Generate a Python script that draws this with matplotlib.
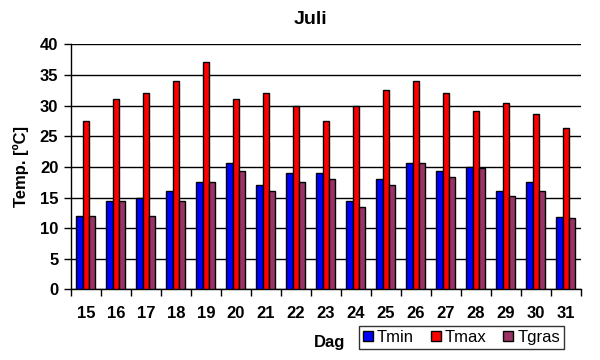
import numpy as np
import matplotlib
matplotlib.use('Agg')
import matplotlib.pyplot as plt

plt.rcParams['font.family'] = ['Liberation Sans', 'DejaVu Sans']

# data
dagen = ['15', '16', '17', '18', '19', '20', '21', '22', '23',
         '24', '25', '26', '27', '28', '29', '30', '31']
tmin = [12, 14.5, 15, 16, 17.5, 20.6, 17, 19, 19,
        14.5, 18, 20.6, 19.4, 19.9, 16, 17.5, 11.9]
tmax = [27.5, 31, 32, 34, 37.1, 31, 32, 30, 27.5,
        30, 32.5, 34, 32, 29.1, 30.5, 28.6, 26.4]
tgras = [12, 14.5, 12, 14.4, 17.6, 19.3, 16, 17.5, 18,
         13.4, 17, 20.6, 18.4, 19.75, 15.3, 16, 11.6]

fig = plt.figure(figsize=(6, 3.6), dpi=100)
ax = fig.add_axes([0.118, 0.196, 0.850, 0.681])

x = np.arange(len(dagen))
w = 0.21
ax.bar(x - w, tmin, w, color='#0000FF', edgecolor='black', linewidth=1, label='Tmin', zorder=3)
ax.bar(x, tmax, w, color='#FF0000', edgecolor='black', linewidth=1, label='Tmax', zorder=3)
ax.bar(x + w, tgras, w, color='#993366', edgecolor='black', linewidth=1, label='Tgras', zorder=3)

ax.set_xlim(-0.5, len(dagen) - 0.5)
ax.set_ylim(0, 40)
ax.set_yticks(range(0, 41, 5))
ax.yaxis.grid(True, color='black', linewidth=1)
ax.set_axisbelow(True)

# ticks between categories, labels in the middle
ax.set_xticks(np.arange(len(dagen) + 1) - 0.5)
ax.set_xticklabels([])
ax.set_xticks(x, minor=True)
ax.set_xticklabels(dagen, minor=True, fontweight='bold')
ax.tick_params(axis='x', which='major', length=5, width=1, color='black')
ax.tick_params(axis='x', which='minor', length=0, pad=12, labelsize=12)
ax.tick_params(axis='y', length=5, width=1, labelsize=12, pad=4)
for lbl in ax.get_yticklabels():
    lbl.set_fontweight('bold')

for s in ['top', 'right']:
    ax.spines[s].set_visible(False)
ax.spines['left'].set_linewidth(1)
ax.spines['bottom'].set_linewidth(1)

fig.text(0.517, 0.945, 'Juli', fontsize=14, fontweight='bold', ha='center', va='center')
ax.set_ylabel('Temp. [ºC]', fontsize=12, fontweight='bold', labelpad=8)
fig.text(0.55, 0.05, 'Dag', fontsize=12, fontweight='bold', ha='center', va='center')

leg = fig.legend(loc='center', bbox_to_anchor=(0.769, 0.063), ncol=3, fontsize=12,
                 frameon=True, fancybox=False, edgecolor='black', handlelength=0.6,
                 handleheight=0.6, handletextpad=0.25, columnspacing=1.0,
                 borderpad=0.25)
leg.get_frame().set_linewidth(1)

plt.savefig('out.png', dpi=100)
